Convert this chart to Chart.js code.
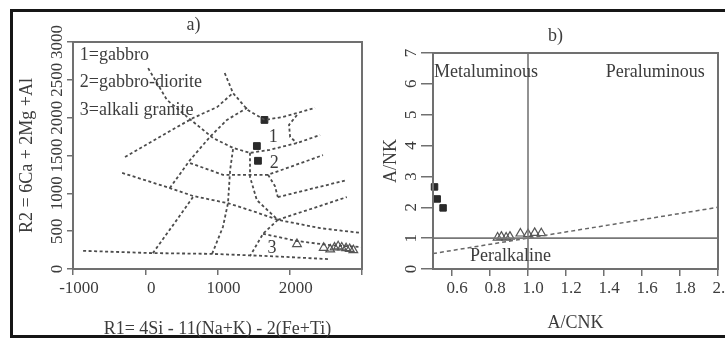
<!DOCTYPE html>
<html>
<head>
<meta charset="utf-8">
<script src="https://cdn.jsdelivr.net/npm/chart.js@4.4.1/dist/chart.umd.min.js"></script>
<style>
  html, body { margin: 0; padding: 0; background: #fff; }
  #wrap { position: relative; width: 725px; height: 341px; overflow: hidden; }
  #frame { position: absolute; left: 10px; top: 9px; width: 800px; height: 329px; border: 3px solid #161616; box-sizing: border-box; }
  #chartA { position: absolute; left: 0; top: 0; }
  #chartB { position: absolute; left: 380px; top: 0; }
</style>
</head>
<body>
<div id="wrap">
  <div id="frame"></div>
  <canvas id="chartA" width="380" height="341"></canvas>
  <canvas id="chartB" width="345" height="341"></canvas>
</div>
<script>
// --- panel a) R1-R2 diagram ---
const aSquares = [[1650, 1970], [1545, 1625], [1560, 1430]];
const aTriangles = [[2100, 330], [2470, 280], [2560, 260], [2620, 285], [2670, 300], [2720, 285], [2780, 275], [2830, 265], [2880, 250]];
// field boundaries (dashed), in R1/R2 units
const aBoundaries = [
  [[1100, 2590], [1215, 2325], [1420, 2100], [1655, 1970], [1905, 2010], [2100, 2060], [2350, 2130]],
  [[2100, 2035], [1990, 1905], [2005, 1745], [2100, 1665]],
  [[40, 2655], [300, 2235], [580, 2010], [940, 1730], [1215, 1600], [1450, 1535], [1725, 1575], [2100, 1665], [2420, 1770]],
  [[1450, 1535], [1450, 1215], [1545, 910], [1835, 650]],
  [[-320, 1270], [340, 1070], [660, 965], [1145, 870], [1520, 755], [1835, 650], [2420, 540], [3000, 475]],
  [[340, 1070], [620, 1440], [895, 1745], [1130, 1970], [1410, 2130]],
  [[-280, 1480], [300, 1800], [660, 1995], [995, 2140], [1200, 2315]],
  [[1215, 1585], [1175, 1310], [1145, 870], [1075, 555], [925, 200]],
  [[105, 210], [385, 580], [660, 950]],
  [[-860, 240], [105, 210], [925, 200], [1725, 170], [2555, 130]],
  [[620, 1400], [1075, 1245], [1700, 1245], [2460, 1505]],
  [[1700, 1245], [1795, 1095], [1835, 950]],
  [[1835, 950], [2790, 1175]],
  [[1835, 650], [2790, 950]],
  [[1835, 650], [1630, 465], [1450, 170]],
  [[1630, 465], [2100, 370], [2555, 315], [3000, 290]]
];
const aXTicks = [-1000, 0, 1000, 2000, 3000];
const aXTickLabels = ['-1000', '0', '1000', '2000', ''];
const aYTicks = [0, 500, 1000, 1500, 2000, 2500, 3000];
const aYTickLabels = ['0', '500', '1000', '1500', '2000', '2500', '3000'];
const aLegend = ['1=gabbro', '2=gabbro-diorite', '3=alkali granite'];
const aFieldLabels = ['1', '2', '3'];

// --- panel b) A/NK vs A/CNK ---
const bSquares = [[0.508, 2.66], [0.522, 2.27], [0.553, 1.98]];
const bTriangles = [[0.84, 1.02], [0.86, 1.05], [0.885, 1.02], [0.905, 1.05], [0.96, 1.15], [1.0, 1.13], [1.035, 1.17], [1.07, 1.16]];
const bHorizontal = [[0.5, 1], [2.0, 1]];
const bVertical = [[1.0, 0], [1.0, 7]];
const bDiagonal = [[0.5, 0.5], [2.0, 2.0]];
const bXTicks = [0.6, 0.8, 1.0, 1.2, 1.4, 1.6, 1.8, 2.0];
const bXTickLabels = ['0.6', '0.8', '1.0', '1.2', '1.4', '1.6', '1.8', '2.0'];
const bYTicks = [0, 1, 2, 3, 4, 5, 6, 7];
const bYTickLabels = ['0', '1', '2', '3', '4', '5', '6', '7'];
const bFieldLabels = ['Metaluminous', 'Peraluminous', 'Peralkaline'];

// --- shared styling ---
const serif = "'Liberation Serif', 'DejaVu Serif', serif";
const ink = '#3c3c3c';
const axisGrey = '#707070';

const toPts = (arr) => arr.map(([x, y]) => ({ x, y }));

function boundaryDatasets(lines) {
  return lines.map((pts) => ({
    data: toPts(pts),
    showLine: true,
    pointRadius: 0,
    borderColor: '#4c4c4c',
    borderWidth: 1.8,
    borderDash: [3, 2.5],
    fill: false,
  }));
}

// box round the plot area (top and right edges)
const plotBox = {
  id: 'plotBox',
  afterDatasetsDraw(chart) {
    const { ctx, chartArea: { left, top, right, bottom } } = chart;
    ctx.save();
    ctx.strokeStyle = axisGrey;
    ctx.lineWidth = 2;
    ctx.strokeRect(left, top, right - left, bottom - top);
    ctx.restore();
  },
};

// text placed at data coordinates + panel letter above the plot
function notesPlugin(panel, dx, notes) {
  return {
    id: 'notes',
    afterDraw(chart) {
      const { ctx, chartArea, scales: { x, y } } = chart;
      ctx.save();
      ctx.fillStyle = ink;
      ctx.textBaseline = 'middle';
      ctx.font = `18px ${serif}`;
      ctx.textAlign = 'center';
      ctx.fillText(panel, (chartArea.left + chartArea.right) / 2 + dx, chartArea.top - 17);
      notes.forEach((n) => {
        ctx.textAlign = n.align || 'left';
        ctx.fillText(n.text, x.getPixelForValue(n.x), y.getPixelForValue(n.y));
      });
      ctx.restore();
    },
  };
}

function axis(opts) {
  return {
    type: 'linear',
    min: opts.min,
    max: opts.max,
    afterBuildTicks: (s) => { s.ticks = opts.ticks.map((v) => ({ value: v })); },
    afterFit: (s) => {
      if (opts.horizontal) { s.height = opts.size; s.paddingLeft = 0; s.paddingRight = 0; }
      else { s.width = opts.size; s.paddingTop = 0; s.paddingBottom = 0; }
    },
    ticks: {
      autoSkip: false,
      color: ink,
      font: { family: serif, size: 17 },
      padding: opts.tickPadding,
      labelOffset: opts.labelOffset || 0,
      minRotation: opts.horizontal ? 0 : 90,
      maxRotation: opts.horizontal ? 0 : 90,
      crossAlign: opts.horizontal ? 'near' : 'center',
      callback: (v, i) => opts.labels[i],
    },
    grid: { drawOnChartArea: false, drawTicks: true, tickLength: opts.tickLength, color: axisGrey, lineWidth: 1.5 },
    border: { display: true, color: axisGrey, width: 2 },
    title: {
      display: true,
      text: opts.title,
      color: ink,
      font: { family: serif, size: 18 },
      padding: opts.titlePadding,
    },
  };
}

const baseOptions = {
  responsive: false,
  animation: false,
  plugins: { legend: { display: false }, tooltip: { enabled: false }, title: { display: false } },
};

// --- CHART a) ---
new Chart(document.getElementById('chartA'), {
  type: 'scatter',
  data: {
    datasets: [
      ...boundaryDatasets(aBoundaries),
      { data: toPts(aTriangles), pointStyle: 'triangle', pointRadius: 5, backgroundColor: 'rgba(255,255,255,0)', borderColor: '#555', borderWidth: 1.2, clip: false },
      { data: toPts(aSquares), pointStyle: 'rect', pointRadius: 4.8, backgroundColor: '#2a2a2a', borderColor: '#2a2a2a', borderWidth: 1, clip: false },
    ],
  },
  options: {
    ...baseOptions,
    layout: { padding: { left: 0, top: 42, right: 18, bottom: 0 } },
    scales: {
      x: axis({ horizontal: true, min: -1000, max: 3000, ticks: aXTicks, labels: aXTickLabels, size: 72, tickLength: 6, tickPadding: 3, labelOffset: 6,
        title: 'R1= 4Si - 11(Na+K) - 2(Fe+Ti)', titlePadding: { top: 0, bottom: 1 } }),
      y: axis({ horizontal: false, min: 0, max: 3000, ticks: aYTicks, labels: aYTickLabels, size: 73, tickLength: 6, tickPadding: -8,
        title: 'R2 = 6Ca + 2Mg +Al', titlePadding: { top: 16, bottom: 0 } }),
    },
  },
  plugins: [plotBox, notesPlugin('a)', -24, [
    { text: aLegend[0], x: -905, y: 2830 },
    { text: aLegend[1], x: -905, y: 2470 },
    { text: aLegend[2], x: -905, y: 2100 },
    { text: aFieldLabels[0], x: 1770, y: 1745, align: 'center' },
    { text: aFieldLabels[1], x: 1785, y: 1400, align: 'center' },
    { text: aFieldLabels[2], x: 1755, y: 280, align: 'center' },
  ])],
});

// --- CHART b) ---
const solidGrey = (pts) => ({ data: toPts(pts), showLine: true, pointRadius: 0, borderColor: '#777', borderWidth: 1.6 });

new Chart(document.getElementById('chartB'), {
  type: 'scatter',
  data: {
    datasets: [
      solidGrey(bHorizontal),
      solidGrey(bVertical),
      { data: toPts(bDiagonal), showLine: true, pointRadius: 0, borderColor: '#666', borderWidth: 1.5, borderDash: [4, 3] },
      { data: toPts(bTriangles), pointStyle: 'triangle', pointRadius: 5, backgroundColor: 'rgba(255,255,255,0)', borderColor: '#555', borderWidth: 1.2, clip: false },
      { data: toPts(bSquares), pointStyle: 'rect', pointRadius: 4.6, backgroundColor: '#2a2a2a', borderColor: '#2a2a2a', borderWidth: 1, clip: false },
    ],
  },
  options: {
    ...baseOptions,
    layout: { padding: { left: 0, top: 53, right: 7, bottom: 0 } },
    scales: {
      x: axis({ horizontal: true, min: 0.5, max: 2.0, ticks: bXTicks, labels: bXTickLabels, size: 72, tickLength: 7, tickPadding: 2, labelOffset: 5,
        title: 'A/CNK', titlePadding: { top: 0, bottom: 7 } }),
      y: axis({ horizontal: false, min: 0, max: 7, ticks: bYTicks, labels: bYTickLabels, size: 53, tickLength: 12, tickPadding: 5,
        title: 'A/NK', titlePadding: { top: 0, bottom: 0 } }),
    },
  },
  plugins: [plotBox, notesPlugin('b)', -20, [
    { text: bFieldLabels[0], x: 0.505, y: 6.38 },
    { text: bFieldLabels[1], x: 1.93, y: 6.38, align: 'right' },
    { text: bFieldLabels[2], x: 0.695, y: 0.42 },
  ])],
});
</script>
</body>
</html>
